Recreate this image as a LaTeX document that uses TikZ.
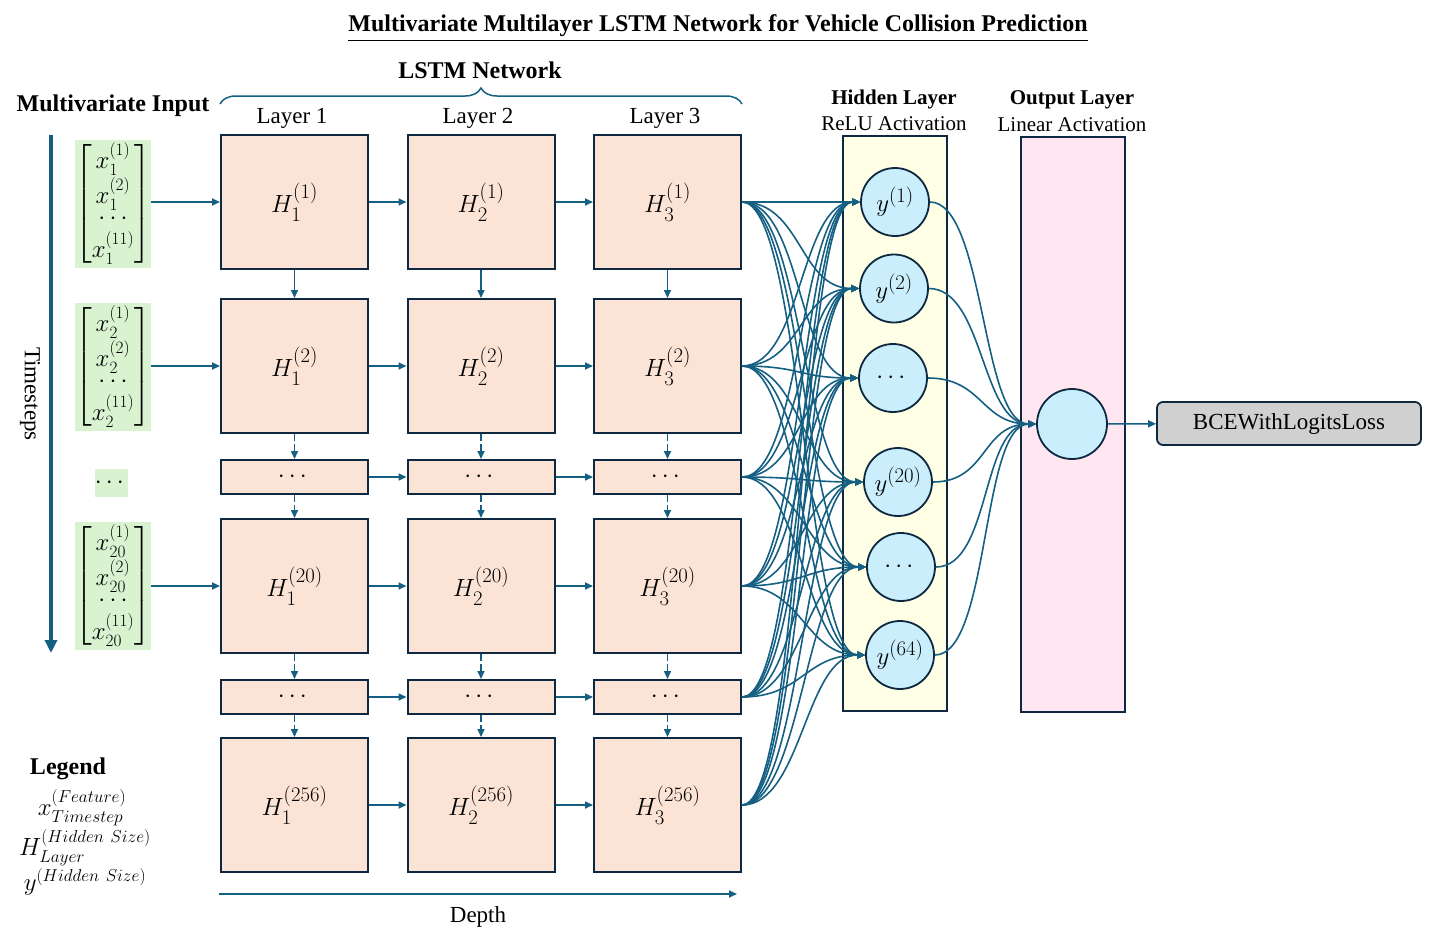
\documentclass[tikz,border=0pt]{standalone}
\usepackage{amsmath}
\usepackage[no-math]{fontspec}
\setmainfont{Liberation Serif}
\usetikzlibrary{arrows.meta, decorations.pathreplacing}
\definecolor{linkblue}{HTML}{156082}
\definecolor{edge}{HTML}{0E2841}
\definecolor{cellfill}{HTML}{FBE3D6}
\definecolor{inputfill}{HTML}{D9F2D0}
\definecolor{hidfill}{HTML}{FEFFE4}
\definecolor{outfill}{HTML}{FFE6F1}
\definecolor{neuronfill}{HTML}{CAEEFB}
\definecolor{lossfill}{HTML}{D0D0D0}

\begin{document}
\begin{tikzpicture}[
  x=1pt, y=-1pt,
  every node/.style={inner sep=0pt, font=\fontsize{23}{27}\selectfont},
  cell/.style={draw=edge, line width=2pt, fill=cellfill, minimum width=147pt, minimum height=134pt, font=\fontsize{28}{32}\selectfont},
  gap/.style={cell, minimum height=34pt},
  vec/.style={fill=inputfill, minimum width=70pt, minimum height=128pt, font=\fontsize{23}{24}\selectfont},
  band/.style={draw=edge, line width=2pt, minimum width=104pt, minimum height=575pt},
  neuron/.style={draw=edge, line width=1.8pt, circle, fill=neuronfill, minimum size=68pt, font=\fontsize{29}{32}\selectfont},
  big/.style={font=\fontsize{24}{28}\selectfont\bfseries},
  head/.style={font=\fontsize{21}{24}\selectfont\bfseries},
  sub/.style={font=\fontsize{21}{24}\selectfont},
  legmath/.style={font=\fontsize{26}{30}\selectfont},
  arr/.style={-{Triangle[length=8pt, width=7pt]}, linkblue, line width=1.6pt},
  fan/.style={arr, out=0, in=180, distance=60pt}
]
  \useasboundingbox (0,0) rectangle (1436,945);

  \node[big] (title) at (718,28) {\underline{Multivariate Multilayer LSTM Network for Vehicle Collision Prediction}};
  \node[big] (lstm) at (480,70) {LSTM Network};
  \draw[linkblue, line width=1.5pt, decorate, decoration={brace, amplitude=16pt}] (220,104) -- (742,104);
  \node[big] (inhead) at (113,106) {Multivariate Input};
  \foreach \c/\xx in {1/292, 2/478, 3/665}
    \node (lay\c) at (\xx,118) {Layer \c};

  \foreach \r/\yy/\lab in {1/202/1, 2/366/2, 4/586/20, 6/805/256}
    \foreach \c/\xx in {1/294.5, 2/481, 3/667.5}
      \node[cell] (h\r\c) at (\xx,\yy) {$H_{\c}^{(\lab)}$};
  \foreach \r/\yy in {3/477, 5/697}
    \foreach \c/\xx in {1/294.5, 2/481, 3/667.5}
      \node[gap] (h\r\c) at (\xx,\yy) {$\cdots$};

  \foreach \r/\yy/\t in {1/204/1, 2/367/2, 4/586/20}
    \node[vec] (x\r) at (113,\yy)
      {$\begin{bmatrix} x_{\t}^{(1)}\\[2pt] x_{\t}^{(2)}\\[-3pt] \cdots\\[0pt] x_{\t}^{(11)} \end{bmatrix}$};
  \node[fill=inputfill, minimum width=25pt, minimum height=28pt] (x3) at (111.5,483) {$\cdots$};

  \foreach \r in {1,2,4}
    \draw[arr] (x\r.east |- h\r1) -- (h\r1);
  \foreach \r in {1,...,6} {
    \draw[arr] (h\r1) -- (h\r2);
    \draw[arr] (h\r2) -- (h\r3);
  }
  \foreach \c in {1,2,3} {
    \draw[arr] (h1\c) -- (h2\c);
    \foreach \r/\s in {2/3, 3/4, 4/5, 5/6}
      \draw[arr, dash pattern=on 7pt off 3pt] (h\r\c) -- (h\s\c);
  }

  \node[band, fill=hidfill] (hid) at (895,423.5) {};
  \node[band, fill=outfill] (outl) at (1072.5,424) {};
  \node[head] (hidhead) at (894,99) {Hidden Layer};
  \node[sub] (hidsub) at (894,124) {ReLU Activation};
  \node[head] (outhead) at (1072,100) {Output Layer};
  \node[sub] (outsub) at (1072,125) {Linear Activation};

  \foreach \k/\xx/\yy/\lab in {1/895/202/{y^{(1)}}, 2/894/288.5/{y^{(2)}}, 3/893/378/{\cdots},
      4/898/482/{y^{(20)}}, 5/901/567/{\cdots}, 6/900/655/{y^{(64)}}}
    \node[neuron] (y\k) at (\xx,\yy) {$\lab$};
  \node[neuron, minimum size=70pt] (out) at (1072,424) {};
  \node[draw=edge, line width=1.8pt, rounded corners=6pt, fill=lossfill,
    minimum width=264pt, minimum height=43pt] (loss) at (1289,423.5) {BCEWithLogitsLoss};

  \foreach \r in {1,...,6}
    \foreach \k in {1,...,6}
      \draw[fan] (h\r3) to (y\k);
  \foreach \k in {1,...,6}
    \draw[fan, distance=55pt] (y\k) to (out);
  \draw[arr] (out) -- (loss);

  \coordinate (tstop) at (51,135);
  \coordinate (tsend) at (51,653);
  \draw[linkblue, line width=4pt, -{Triangle[length=13pt, width=12pt]}] (tstop) -- (tsend);
  \node[rotate=-90] (tslab) at (30,394) {Timesteps};

  \coordinate (dstart) at (219,894);
  \coordinate (dend) at (737,894);
  \draw[arr] (dstart) -- (dend);
  \node (dlab) at (478,917) {Depth};

  \node[big] (leg) at (68,769) {Legend};
  \node[legmath] (legx) at (82,808) {$x^{(Feature)}_{Timestep}$};
  \node[legmath] (legh) at (85,848) {$H^{(Hidden\ Size)}_{Layer}$};
  \node[legmath] (legy) at (85,882) {$y^{(Hidden\ Size)}$};
\end{tikzpicture}
\end{document}
